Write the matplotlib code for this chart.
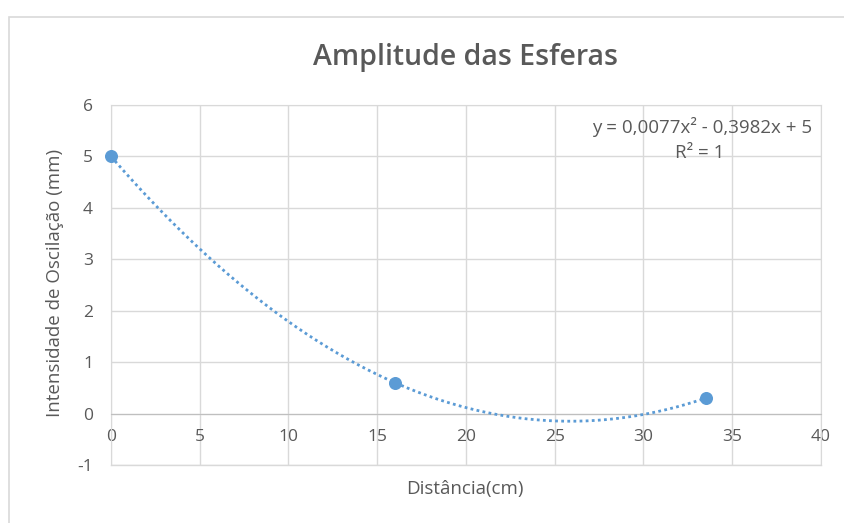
import numpy as np
import matplotlib
matplotlib.use("Agg")
import matplotlib.pyplot as plt
from matplotlib.patches import Rectangle

# Data
x_vals = [0, 16, 33.5]
y_vals = [5, 0.6, 0.3]
x_ticks = [0, 5, 10, 15, 20, 25, 30, 35, 40]
y_ticks = [-1, 0, 1, 2, 3, 4, 5, 6]
title = "Amplitude das Esferas"
xlabel = "Distância(cm)"
ylabel = "Intensidade de Oscilação (mm)"
eq_line1 = "y = 0,0077x² - 0,3982x + 5"
eq_line2 = "R² = 1"

plt.rcParams['font.family'] = ['Open Sans', 'DejaVu Sans']
plt.rcParams['axes.unicode_minus'] = False
txt = '#595959'
grid = '#D9D9D9'
blue = '#5B9BD5'

fig = plt.figure(figsize=(8.45, 5.23), dpi=100)
# outer chart border
fig.patches.append(Rectangle((9/845, -0.1), 1.2, 1 - 17/523 + 0.1, transform=fig.transFigure,
                             fill=False, edgecolor=grid, lw=1.2))

ax = fig.add_axes([111/845, 1 - 465/523, (821 - 111)/845, (465 - 105)/523])
ax.set_xlim(0, 40)
ax.set_ylim(-1, 6)
ax.set_xticks(x_ticks)
ax.set_yticks(y_ticks)
ax.grid(True, color=grid, lw=1)
ax.set_axisbelow(True)
for s in ['top', 'right']:
    ax.spines[s].set_color(grid)
ax.spines['bottom'].set_position(('data', 0))
ax.spines['bottom'].set_color('#BFBFBF')
ax.spines['left'].set_color(grid)
ax.tick_params(length=0, colors=txt, labelsize=12.5)
ax.tick_params(axis='x', pad=11)
ax.tick_params(axis='y', pad=13)
ax.axhline(-1, color=grid, lw=1, clip_on=False)

# trendline (polynomial order 2 fit)
coef = np.polyfit(x_vals, y_vals, 2)
xs = np.linspace(min(x_vals), max(x_vals), 300)
ax.plot(xs, np.polyval(coef, xs), color=blue, lw=2, linestyle=(0, (1, 1.2)), zorder=3)
ax.scatter(x_vals, y_vals, s=70, color=blue, zorder=4, clip_on=False)

ax.text(812/845, 1 - 127/523, eq_line1, transform=fig.transFigure, ha='right', va='center',
        fontsize=13.5, color=txt)
ax.text(700/845, 1 - 153/523, eq_line2, transform=fig.transFigure, ha='center', va='center',
        fontsize=13.5, color=txt)

fig.text(466/845, 1 - 58/523, title, ha='center', va='center', fontsize=20.5, color=txt,
         fontweight='semibold')
fig.text(465/845, 1 - 489/523, xlabel, ha='center', va='center', fontsize=13.5, color=txt)
fig.text(55/845, 1 - 283/523, ylabel, ha='center', va='center', fontsize=13.5, color=txt, rotation=90)

fig.savefig("out.png", dpi=100)
